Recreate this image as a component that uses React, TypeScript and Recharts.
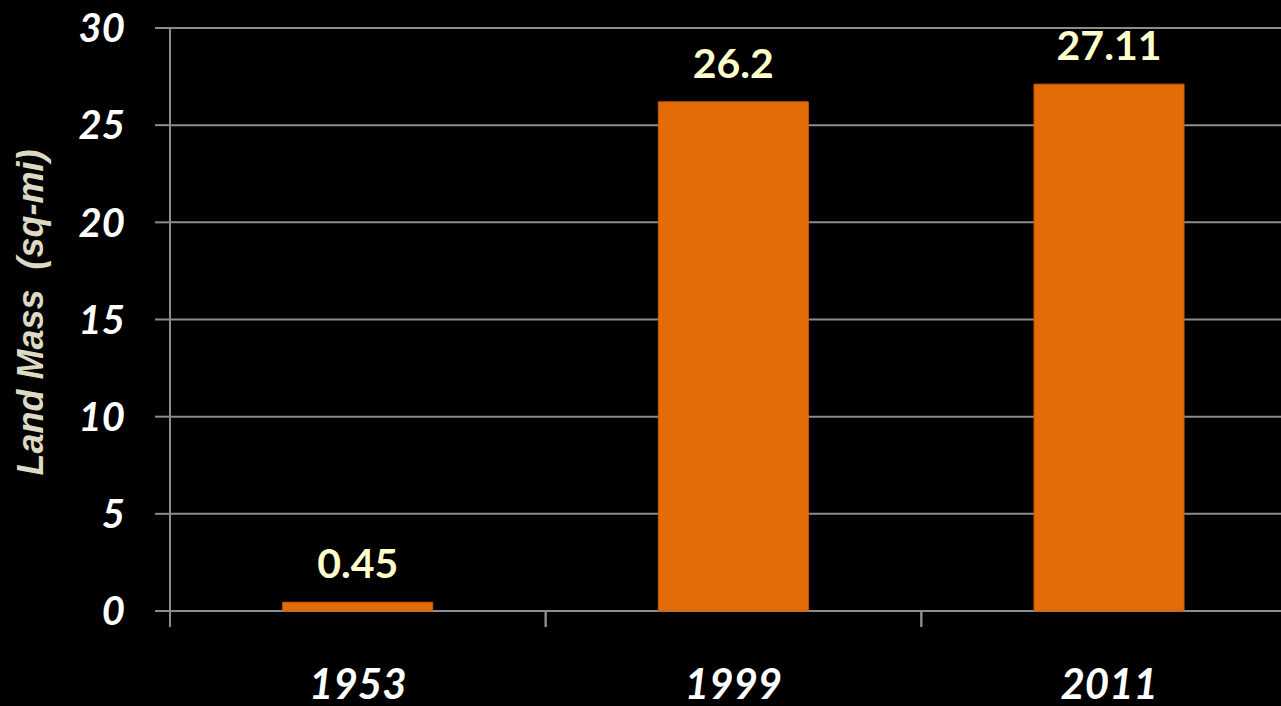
import React from 'react';
import { BarChart, Bar, XAxis, YAxis, CartesianGrid, LabelList } from 'recharts';

const years = ['1953', '1999', '2011'];
const landMass = [0.45, 26.2, 27.11];
const yTicks = [0, 5, 10, 15, 20, 25, 30];

const data = years.map((year, i) => ({ year, value: landMass[i] }));

const GRID = '#8c8c8c';
const FONT = 'Lato, "Open Sans", sans-serif';

function YTitle(props: any) {
  const vb = props.viewBox || { x: 0, y: 0, width: 0, height: 0 };
  const cx = 43;
  const cy = vb.y + vb.height / 2 - 7;
  return (
    <text
      x={cx}
      y={cy}
      transform={`rotate(-90, ${cx}, ${cy})`}
      textAnchor="middle"
      fill="#DDD9C3"
      fontFamily='"Liberation Sans", Arial, sans-serif'
      fontWeight="bold"
      fontStyle="italic"
      fontSize={36}
      style={{ whiteSpace: 'pre' }}
    >
      Land Mass  (sq-mi)
    </text>
  );
}

// year label plus a tick mark on the edges of each category band
function YearTick(props: any) {
  const { x, y, payload } = props;
  const half = payload && payload.offset ? payload.offset : 0;
  return (
    <g>
      <line x1={x - half} x2={x - half} y1={y} y2={y + 16} stroke={GRID} strokeWidth={2} />
      <line x1={x + half} x2={x + half} y1={y} y2={y + 16} stroke={GRID} strokeWidth={2} />
      <text
        x={x}
        y={y + 88}
        textAnchor="middle"
        fill="#fff"
        fontSize={42}
        fontWeight="bold"
        fontStyle="italic"
        fontFamily={FONT}
      >
        {payload.value}
      </text>
    </g>
  );
}

export default function App() {
  return (
    <div style={{ position: 'fixed', left: 0, top: 0, width: 1281, height: 706, overflow: 'hidden', background: '#000' }}>
      <BarChart
        width={1300}
        height={706}
        data={data}
        margin={{ top: 28, right: 3, left: 0, bottom: 0 }}
        barCategoryGap="30%"
      >
        <CartesianGrid horizontal vertical={false} stroke={GRID} strokeWidth={2} />
        <XAxis
          dataKey="year"
          height={95}
          tickLine={false}
          axisLine={false}
          tickSize={0}
          tickMargin={0}
          tick={YearTick}
        />
        <YAxis
          width={170}
          domain={[0, 30]}
          ticks={yTicks}
          tickSize={15}
          tickMargin={30}
          tickLine={{ stroke: GRID, strokeWidth: 2 }}
          axisLine={{ stroke: GRID, strokeWidth: 2 }}
          tick={{ fill: '#fff', fontSize: 40, fontWeight: 'bold', fontStyle: 'italic', fontFamily: FONT }}
          label={{ content: YTitle }}
        />
        <Bar dataKey="value" fill="#E36C09" stroke="#C95F08" strokeWidth={1} isAnimationActive={false}>
          <LabelList
            dataKey="value"
            position="top"
            offset={24}
            fill="#FFFFCC"
            fontSize={41}
            fontWeight="bold"
            fontFamily={FONT}
          />
        </Bar>
      </BarChart>
    </div>
  );
}
